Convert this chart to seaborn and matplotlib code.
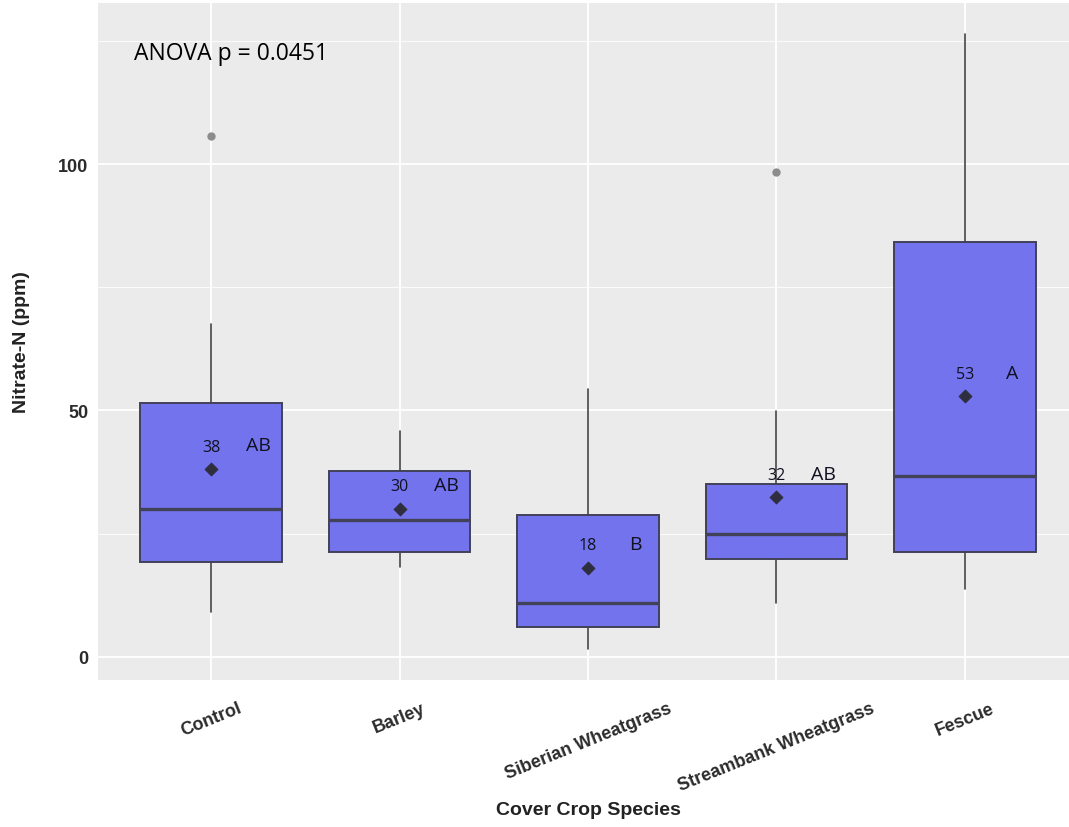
import matplotlib
matplotlib.use("Agg")
import matplotlib.pyplot as plt
import numpy as np
import pandas as pd
import seaborn as sns

# Données (Nitrate-N, ppm)
species = ["Control", "Barley", "Siberian Wheatgrass", "Streambank Wheatgrass", "Fescue"]
q1 = [19.3, 21.3, 6.0, 19.9, 21.3]
median = [30.0, 27.7, 11.0, 25.0, 36.7]
q3 = [51.5, 37.7, 28.8, 35.0, 84.2]
whisker_lo = [9.1, 18.2, 1.5, 10.9, 13.8]
whisker_hi = [67.5, 45.9, 54.4, 49.8, 126.4]
outliers = [[105.7], [], [], [98.4], []]
means = [38.1, 30.1, 18.1, 32.4, 52.9]
mean_labels = ["38", "30", "18", "32", "53"]
letters = ["AB", "AB", "B", "AB", "A"]
anova_text = "ANOVA p = 0.0451"

sns.set_theme(style="darkgrid", rc={
    "axes.facecolor": "#EBEBEB",
    "grid.color": "white",
    "axes.edgecolor": "#EBEBEB",
})
plt.rcParams["font.family"] = ["Liberation Sans", "DejaVu Sans"]

fig = plt.figure(figsize=(10.69, 8.28), dpi=100)
ax = fig.add_axes([98 / 1069, 1 - 681 / 828, 980 / 1069, 677 / 828])

positions = np.arange(len(species))
stats = []
for i, name in enumerate(species):
    stats.append({
        "label": name, "q1": q1[i], "med": median[i], "q3": q3[i],
        "whislo": whisker_lo[i], "whishi": whisker_hi[i], "fliers": outliers[i],
    })

ax.bxp(stats, positions=positions, widths=0.75, patch_artist=True,
       showcaps=False, showfliers=True,
       boxprops=dict(facecolor="#7373EE", edgecolor="#414158", linewidth=1.4),
       medianprops=dict(color="#414158", linewidth=2.4),
       whiskerprops=dict(color="#444444", linewidth=1.2),
       flierprops=dict(marker="o", markerfacecolor="#8C8C8C", markeredgecolor="#8C8C8C",
                       markersize=5))

# moyennes
df_means = pd.DataFrame({"pos": positions, "mean": means})
sns.scatterplot(data=df_means, x="pos", y="mean", marker="D", s=45,
                color="#2E2E3E", edgecolor="#2E2E3E", zorder=5, ax=ax)

for i in range(len(species)):
    ax.text(positions[i], means[i] + 4.5, mean_labels[i], ha="center", va="center",
            fontsize=11.5, family=["Open Sans", "DejaVu Sans"], color="#111122")
    ax.text(positions[i] + 0.25, means[i] + 4.8, letters[i], ha="center", va="center",
            fontsize=14, family=["Open Sans", "DejaVu Sans"], color="#111122")

ax.text(-0.41, 122.5, anova_text, ha="left", va="center", fontsize=16.5,
        family=["Open Sans", "DejaVu Sans"], color="black")

ax.set_xlim(-0.6, 4.6)
ax.set_ylim(-4.7, 132.7)
ax.set_yticks([0, 50, 100])
ax.set_yticks([25, 75, 125], minor=True)
ax.grid(which="major", color="white", linewidth=1.3)
ax.grid(which="minor", color="white", linewidth=0.6)
ax.set_xticks(positions)
ax.set_xticklabels(species, rotation=22, ha="center", fontweight="bold",
                   fontsize=13, color="#2B2B2B")
for lab in ax.get_yticklabels():
    lab.set_fontweight("bold")
    lab.set_fontsize(13)
    lab.set_color("#2B2B2B")
ax.tick_params(axis="both", which="major", length=4, width=1, color="#444444", pad=3)
ax.tick_params(axis="both", which="minor", length=0)
ax.tick_params(axis="x", pad=10)

ax.set_xlabel("Cover Crop Species", fontsize=14, fontweight="bold", color="#222222")
ax.set_ylabel("Nitrate-N (ppm)", fontsize=14, fontweight="bold", color="#222222")
ax.xaxis.set_label_coords(0.5, -0.192)
ax.xaxis.label.set_va("center")
ax.yaxis.set_label_coords(-0.078, 0.5)
ax.yaxis.label.set_va("center")
for side in ax.spines.values():
    side.set_visible(False)

fig.savefig("out.png", dpi=100)
